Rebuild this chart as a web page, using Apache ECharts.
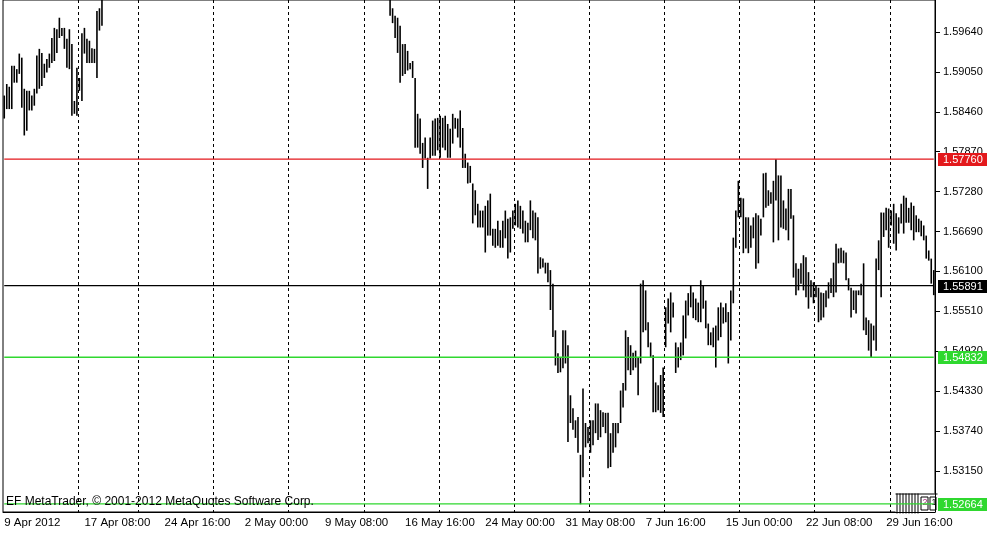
<!DOCTYPE html>
<html>
<head>
<meta charset="utf-8">
<title>GBPUSD H4</title>
<script src="https://cdn.jsdelivr.net/npm/echarts@6/dist/echarts.min.js"></script>
<style>
    html, body { margin: 0; padding: 0; background: #fff; }
    #chart { width: 1001px; height: 538px; }
</style>
</head>
<body>
<div id="chart"></div>
<script>
    // H4 bars, 9 Apr - 40 bars visible at the left
    const HIGH_APR = [
        1.5870, 1.5887, 1.5883, 1.5914, 1.5914, 1.5909, 1.5932, 1.5926, 1.5880, 1.5877,
        1.5877, 1.5870, 1.5880, 1.5929, 1.5939, 1.5933, 1.5917, 1.5924, 1.5932, 1.5955,
        1.5970, 1.5968, 1.5985, 1.5970, 1.5970, 1.5954, 1.5968, 1.5946, 1.5862, 1.5911,
        1.5896, 1.5962, 1.5970, 1.5954, 1.5951, 1.5940, 1.5939, 1.5995, 1.5999, 1.6025
    ]
    const LOW_APR = [
        1.5836, 1.5850, 1.5850, 1.5850, 1.5889, 1.5889, 1.5902, 1.5852, 1.5811, 1.5818,
        1.5848, 1.5848, 1.5855, 1.5873, 1.5880, 1.5884, 1.5896, 1.5904, 1.5911, 1.5918,
        1.5921, 1.5933, 1.5955, 1.5958, 1.5939, 1.5911, 1.5909, 1.5840, 1.5843, 1.5840,
        1.5877, 1.5862, 1.5932, 1.5918, 1.5918, 1.5918, 1.5918, 1.5896, 1.5966, 1.5973
    ]
    // bars that sit above the top of the window (not readable)
    const HIDDEN_BARS = 114
    // mid May - end of June
    const HIGH_MAYJUN = [
        1.6025, 1.5999, 1.5988, 1.5985, 1.5973, 1.5946, 1.5946, 1.5936, 1.5918, 1.5921,
        1.5896, 1.5843, 1.5836, 1.5800, 1.5808, 1.5778, 1.5808, 1.5833, 1.5836, 1.5837,
        1.5840, 1.5837, 1.5840, 1.5828, 1.5821, 1.5843, 1.5837, 1.5836, 1.5848, 1.5822,
        1.5784, 1.5771, 1.5766, 1.5740, 1.5730, 1.5710, 1.5700, 1.5700, 1.5707, 1.5715,
        1.5725, 1.5673, 1.5673, 1.5685, 1.5671, 1.5685, 1.5700, 1.5688, 1.5690, 1.5700,
        1.5710, 1.5715, 1.5707, 1.5700, 1.5685, 1.5682, 1.5715, 1.5700, 1.5697, 1.5690,
        1.5631, 1.5629, 1.5623, 1.5623, 1.5612, 1.5592, 1.5523, 1.5489, 1.5482, 1.5523,
        1.5523, 1.5501, 1.5427, 1.5408, 1.5390, 1.5395, 1.5339, 1.5437, 1.5386, 1.5380,
        1.5390, 1.5390, 1.5415, 1.5415, 1.5405, 1.5402, 1.5401, 1.5401, 1.5371, 1.5386,
        1.5386, 1.5386, 1.5434, 1.5445, 1.5523, 1.5513, 1.5501, 1.5490, 1.5493, 1.5483,
        1.5592, 1.5597, 1.5582, 1.5535, 1.5505, 1.5486, 1.5446, 1.5442, 1.5457, 1.5468,
        1.5557, 1.5570, 1.5579, 1.5564, 1.5505, 1.5498, 1.5505, 1.5545, 1.5567, 1.5578,
        1.5589, 1.5579, 1.5570, 1.5564, 1.5597, 1.5589, 1.5567, 1.5533, 1.5520, 1.5527,
        1.5530, 1.5557, 1.5564, 1.5557, 1.5563, 1.5550, 1.5582, 1.5660, 1.5700, 1.5744,
        1.5719, 1.5718, 1.5690, 1.5690, 1.5678, 1.5690, 1.5696, 1.5693, 1.5688, 1.5755,
        1.5756, 1.5730, 1.5727, 1.5744, 1.5776, 1.5752, 1.5752, 1.5715, 1.5703, 1.5732,
        1.5732, 1.5693, 1.5622, 1.5614, 1.5622, 1.5634, 1.5631, 1.5609, 1.5597, 1.5594,
        1.5589, 1.5586, 1.5579, 1.5578, 1.5582, 1.5594, 1.5600, 1.5623, 1.5651, 1.5644,
        1.5645, 1.5641, 1.5638, 1.5600, 1.5586, 1.5582, 1.5582, 1.5582, 1.5592, 1.5622,
        1.5542, 1.5538, 1.5533, 1.5530, 1.5629, 1.5656, 1.5697, 1.5697, 1.5704, 1.5703,
        1.5700, 1.5710, 1.5696, 1.5690, 1.5710, 1.5722, 1.5719, 1.5704, 1.5712, 1.5707,
        1.5693, 1.5688, 1.5685, 1.5678, 1.5663, 1.5641, 1.5629, 1.5612
    ]
    const LOW_MAYJUN = [
        1.5988, 1.5977, 1.5955, 1.5933, 1.5889, 1.5899, 1.5902, 1.5907, 1.5909, 1.5896,
        1.5793, 1.5793, 1.5784, 1.5763, 1.5777, 1.5732, 1.5777, 1.5781, 1.5781, 1.5789,
        1.5778, 1.5793, 1.5789, 1.5778, 1.5778, 1.5799, 1.5821, 1.5808, 1.5793, 1.5763,
        1.5763, 1.5740, 1.5741, 1.5681, 1.5693, 1.5675, 1.5675, 1.5675, 1.5638, 1.5663,
        1.5663, 1.5648, 1.5645, 1.5648, 1.5645, 1.5645, 1.5659, 1.5629, 1.5638, 1.5673,
        1.5678, 1.5675, 1.5673, 1.5666, 1.5653, 1.5653, 1.5671, 1.5659, 1.5656, 1.5607,
        1.5614, 1.5616, 1.5607, 1.5594, 1.5553, 1.5513, 1.5471, 1.5460, 1.5461, 1.5467,
        1.5474, 1.5358, 1.5386, 1.5376, 1.5364, 1.5342, 1.5266, 1.5306, 1.5350, 1.5356,
        1.5342, 1.5353, 1.5371, 1.5361, 1.5365, 1.5380, 1.5371, 1.5319, 1.5321, 1.5342,
        1.5350, 1.5371, 1.5386, 1.5409, 1.5434, 1.5464, 1.5457, 1.5464, 1.5468, 1.5427,
        1.5474, 1.5520, 1.5523, 1.5498, 1.5483, 1.5402, 1.5402, 1.5405, 1.5401, 1.5395,
        1.5498, 1.5533, 1.5520, 1.5542, 1.5460, 1.5468, 1.5479, 1.5486, 1.5511, 1.5545,
        1.5557, 1.5541, 1.5538, 1.5535, 1.5535, 1.5555, 1.5526, 1.5501, 1.5501, 1.5498,
        1.5468, 1.5508, 1.5513, 1.5533, 1.5535, 1.5474, 1.5508, 1.5563, 1.5645, 1.5690,
        1.5690, 1.5637, 1.5644, 1.5637, 1.5645, 1.5659, 1.5614, 1.5622, 1.5663, 1.5690,
        1.5704, 1.5707, 1.5710, 1.5653, 1.5715, 1.5656, 1.5675, 1.5673, 1.5671, 1.5656,
        1.5688, 1.5601, 1.5575, 1.5582, 1.5592, 1.5582, 1.5572, 1.5555, 1.5572, 1.5563,
        1.5572, 1.5535, 1.5538, 1.5542, 1.5557, 1.5570, 1.5578, 1.5572, 1.5579, 1.5622,
        1.5623, 1.5622, 1.5597, 1.5582, 1.5542, 1.5553, 1.5548, 1.5575, 1.5575, 1.5523,
        1.5516, 1.5493, 1.5483, 1.5508, 1.5493, 1.5612, 1.5572, 1.5661, 1.5671, 1.5645,
        1.5678, 1.5651, 1.5641, 1.5666, 1.5681, 1.5666, 1.5682, 1.5682, 1.5671, 1.5656,
        1.5668, 1.5668, 1.5662, 1.5656, 1.5629, 1.5626, 1.5592, 1.5575
    ]

    // time axis labels, one every 32 bars
    const LABEL_STEP = 32
    const TICK_LABELS = ['9 Apr 2012', '17 Apr 08:00', '24 Apr 16:00', '2 May 00:00', '9 May 08:00', '16 May 16:00',
        '24 May 00:00', '31 May 08:00', '7 Jun 16:00', '15 Jun 00:00', '22 Jun 08:00', '29 Jun 16:00']
    // dotted grid lines (bar index where they sit)
    const GRID_BARS = [30, 54, 84, 114, 144, 174, 204, 234, 264, 294, 324, 354]
    const PRICE_TICKS = [1.53150, 1.53740, 1.54330, 1.54920, 1.55510, 1.56100, 1.56690, 1.57280, 1.57870, 1.58460, 1.59050, 1.59640]
    // horizontal price lines
    const LEVEL_VALUES = [1.57760, 1.55891, 1.54832, 1.52664]
    const LEVEL_COLORS = ['#e3191c', '#000000', '#2fd82f', '#2fd82f']

    const FONT = 'Liberation Sans, Arial, sans-serif'

    const barCount = HIGH_APR.length + HIDDEN_BARS + HIGH_MAYJUN.length
    const categories = []
    for (let i = 0; i < barCount; i++) categories.push(String(i))

    const bars = []
    HIGH_APR.forEach((h, i) => bars.push([i, h, LOW_APR[i]]))
    const offset = HIGH_APR.length + HIDDEN_BARS
    HIGH_MAYJUN.forEach((h, i) => bars.push([offset + i, h, LOW_MAYJUN[i]]))

    /**
     * one bar: high-low stroke
     */
    function renderBar (params, api) {
        const hi = api.coord([api.value(0), api.value(1)])
        const lo = api.coord([api.value(0), api.value(2)])
        return {
            type: 'line',
            shape: {x1: hi[0], y1: hi[1], x2: hi[0], y2: lo[1]},
            style: {stroke: '#000', lineWidth: 1.6}
        }
    }

    /**
     * price tag on the right scale for each level
     */
    function renderTag (params, api) {
        const k = params.dataIndex
        const cs = params.coordSys
        const y = Math.round(api.coord([0, api.value(1)])[1])
        const right = cs.x + cs.width
        return {
            type: 'group',
            children: [
                {type: 'rect', shape: {x: right + 3, y: y - 6, width: 49, height: 13}, style: {fill: LEVEL_COLORS[k]}},
                {
                    type: 'text',
                    x: right + 8,
                    y: y + 0.5,
                    style: {text: LEVEL_VALUES[k].toFixed(5), fill: '#fff', font: '11px ' + FONT, verticalAlign: 'middle'}
                }
            ]
        }
    }

    const levelSeries = LEVEL_VALUES.map((v, k) => ({
        type: 'line',
        data: categories.map(() => v),
        symbol: 'none',
        silent: true,
        z: 4,
        lineStyle: {color: LEVEL_COLORS[k], width: 1.3}
    }))

    const chart = echarts.init(document.getElementById('chart'))
    chart.setOption({
        animation: false,
        backgroundColor: '#fff',
        textStyle: {fontFamily: FONT},
        grid: {left: 3, right: 66, top: -1, bottom: 26, show: true, borderColor: '#000', borderWidth: 1},
        xAxis: {
            type: 'category',
            data: categories,
            boundaryGap: true,
            axisLine: {lineStyle: {color: '#000', width: 1}},
            axisTick: {interval: (i) => i % LABEL_STEP === 0, length: 4, lineStyle: {color: '#000'}},
            axisLabel: {
                interval: (i) => i % LABEL_STEP === 0,
                formatter: (v, i) => TICK_LABELS[i / LABEL_STEP] || '',
                align: 'left',
                margin: 5,
                color: '#000',
                fontSize: 11.5,
                fontFamily: FONT
            },
            splitLine: {
                show: true,
                interval: (i) => GRID_BARS.indexOf(i) >= 0,
                lineStyle: {color: '#000', width: 1, type: [3, 3]}
            }
        },
        yAxis: {
            type: 'value',
            position: 'right',
            min: 1.52545,
            max: 1.60112,
            axisLine: {show: true, lineStyle: {color: '#000', width: 1}},
            axisTick: {show: true, customValues: PRICE_TICKS, length: 5, lineStyle: {color: '#000'}},
            axisLabel: {
                customValues: PRICE_TICKS,
                formatter: (v) => v.toFixed(5),
                margin: 8,
                color: '#000',
                fontSize: 11,
                fontFamily: FONT
            },
            splitLine: {show: false}
        },
        series: [
            {
                type: 'custom',
                renderItem: renderBar,
                clip: true,
                encode: {x: 0, y: [1, 2]},
                data: bars
            },
            ...levelSeries,
            {
                type: 'custom',
                renderItem: renderTag,
                clip: false,
                z: 5,
                silent: true,
                encode: {x: 0, y: 1},
                data: LEVEL_VALUES.map((v) => [0, v])
            }
        ],
        graphic: [
            {
                type: 'text',
                left: 6,
                top: 496,
                z: 10,
                style: {text: 'EF MetaTrader, © 2001-2012 MetaQuotes Software Corp.', fill: '#000', font: '12px ' + FONT}
            },
            {
                // small trade-level widget in the bottom right corner
                type: 'group',
                left: 893,
                top: 491,
                z: 10,
                children: [
                    {type: 'rect', shape: {x: 0, y: 0, width: 42, height: 20}, style: {fill: '#fff'}},
                    {type: 'line', shape: {x1: 0, y1: 0.5, x2: 42, y2: 0.5}, style: {stroke: '#000'}},
                    {type: 'line', shape: {x1: 1.5, y1: 0, x2: 1.5, y2: 20}, style: {stroke: '#000'}},
                    {type: 'line', shape: {x1: 4.5, y1: 0, x2: 4.5, y2: 20}, style: {stroke: '#000'}},
                    {type: 'line', shape: {x1: 7.5, y1: 0, x2: 7.5, y2: 20}, style: {stroke: '#000'}},
                    {type: 'line', shape: {x1: 10.5, y1: 0, x2: 10.5, y2: 20}, style: {stroke: '#000'}},
                    {type: 'line', shape: {x1: 13.5, y1: 0, x2: 13.5, y2: 20}, style: {stroke: '#000'}},
                    {type: 'line', shape: {x1: 16.5, y1: 0, x2: 16.5, y2: 20}, style: {stroke: '#000'}},
                    {type: 'line', shape: {x1: 19.5, y1: 0, x2: 19.5, y2: 20}, style: {stroke: '#000'}},
                    {type: 'line', shape: {x1: 22.5, y1: 0, x2: 22.5, y2: 20}, style: {stroke: '#000'}},
                    {type: 'rect', shape: {x: 25.5, y: 3.5, width: 7, height: 13}, style: {fill: 'none', stroke: '#000'}},
                    {type: 'text', x: 27, y: 5, style: {text: '2', fill: '#a0307a', font: '9px ' + FONT}},
                    {type: 'rect', shape: {x: 34.5, y: 3.5, width: 6, height: 13}, style: {fill: 'none', stroke: '#000'}},
                    {type: 'text', x: 36, y: 5, style: {text: '1', fill: '#000', font: '9px ' + FONT}}
                ]
            }
        ]
    })
</script>
</body>
</html>
